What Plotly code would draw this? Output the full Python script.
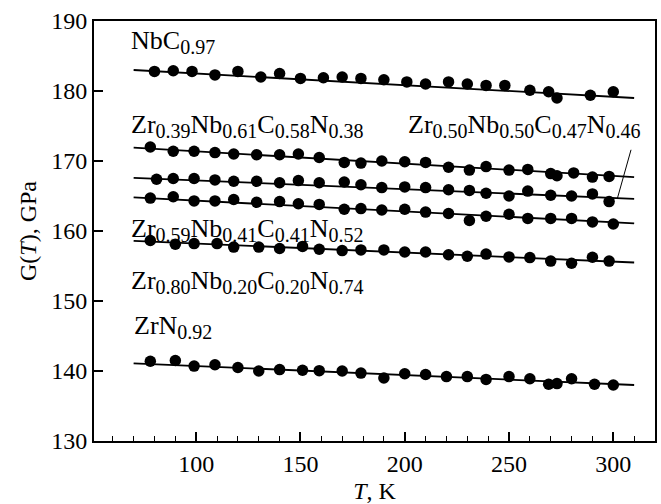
import plotly.graph_objects as go

# ---------------- data ----------------
T_NbC = [80, 89, 98, 109, 120, 131, 140, 150, 161, 170, 179, 190, 201, 210, 221, 230, 239, 248, 260, 269, 273, 289, 300]
G_NbC = [182.8, 182.9, 182.8, 182.3, 182.8, 182.0, 182.5, 181.8, 181.9, 182.0, 181.8, 181.6, 181.3, 181.0, 181.3, 181.0, 180.8, 180.8, 180.1, 179.9, 179.0, 179.4, 179.9]

T_Zr39 = [78, 89, 99, 109, 118, 129, 140, 149, 159, 171, 179, 189, 200, 210, 221, 231, 239, 250, 259, 270, 273, 281, 290, 298]
G_Zr39 = [172.0, 171.4, 171.4, 171.2, 171.0, 170.9, 170.9, 171.0, 170.5, 169.8, 169.7, 170.0, 169.9, 169.8, 169.1, 168.7, 169.2, 168.7, 168.8, 168.2, 167.9, 168.3, 167.7, 167.8]

T_Zr50 = [81, 89, 99, 109, 118, 129, 140, 149, 159, 171, 179, 189, 200, 210, 221, 231, 239, 250, 259, 270, 280, 290, 298]
G_Zr50 = [167.4, 167.5, 167.5, 167.3, 167.1, 167.1, 166.9, 167.2, 166.9, 167.0, 166.6, 166.2, 166.3, 166.2, 165.9, 165.8, 165.4, 165.0, 165.7, 165.1, 165.0, 165.3, 164.2]

T_Zr59 = [78, 89, 99, 109, 118, 129, 140, 149, 159, 171, 179, 189, 200, 210, 221, 231, 239, 250, 259, 270, 280, 290, 300]
G_Zr59 = [164.7, 164.9, 164.3, 164.3, 164.5, 164.1, 164.2, 163.9, 163.8, 163.1, 163.2, 163.0, 163.1, 162.7, 162.5, 161.5, 162.1, 162.4, 161.8, 161.8, 161.8, 161.3, 161.0]

T_Zr80 = [78, 90, 99, 110, 118, 130, 140, 151, 159, 170, 179, 190, 200, 210, 221, 230, 239, 250, 260, 270, 280, 290, 298]
G_Zr80 = [158.65, 158.1, 158.2, 158.2, 157.7, 157.7, 157.5, 157.8, 157.4, 157.2, 157.3, 157.3, 157.0, 157.0, 156.6, 156.4, 156.7, 156.3, 156.2, 155.7, 155.4, 156.25, 155.7]

T_ZrN = [78, 90, 99, 109, 120, 130, 140, 151, 159, 170, 179, 190, 200, 210, 220, 230, 239, 250, 260, 269, 273, 280, 291, 300]
G_ZrN = [141.4, 141.5, 140.7, 140.9, 140.5, 140.0, 140.2, 140.1, 140.05, 140.0, 139.7, 139.0, 139.6, 139.5, 139.2, 139.2, 138.8, 139.2, 138.9, 138.1, 138.2, 138.9, 138.1, 138.0]

# fitted straight lines (end values at T_fit)
T_fit = [70, 310]
fit_NbC = [183.0, 179.0]
fit_Zr39 = [171.9, 167.7]
fit_Zr50 = [167.6, 164.6]
fit_Zr59 = [164.8, 161.1]
fit_Zr80 = [158.6, 155.5]
fit_ZrN = [141.1, 138.0]

# label pieces: (main text, subscript) pairs
label_parts = [
    [("NbC", "0.97")],
    [("Zr", "0.39"), ("Nb", "0.61"), ("C", "0.58"), ("N", "0.38")],
    [("Zr", "0.50"), ("Nb", "0.50"), ("C", "0.47"), ("N", "0.46")],
    [("Zr", "0.59"), ("Nb", "0.41"), ("C", "0.41"), ("N", "0.52")],
    [("Zr", "0.80"), ("Nb", "0.20"), ("C", "0.20"), ("N", "0.74")],
    [("ZrN", "0.92")],
]
label_T = [67.8, 68.0, 200.5, 68.0, 68.0, 69.0]
label_G = [184.4, 172.5, 172.5, 157.6, 150.2, 143.7]

x_ticks = [100, 150, 200, 250, 300]
y_ticks = [130, 140, 150, 160, 170, 180, 190]

series = [
    (T_NbC, G_NbC, fit_NbC),
    (T_Zr39, G_Zr39, fit_Zr39),
    (T_Zr50, G_Zr50, fit_Zr50),
    (T_Zr59, G_Zr59, fit_Zr59),
    (T_Zr80, G_Zr80, fit_Zr80),
    (T_ZrN, G_ZrN, fit_ZrN),
]

FONT = "Liberation Serif, Times New Roman, serif"
SUB_PX = 20


def make_label(parts):
    out = ""
    for main, sub in parts:
        out += main + '<sub><span style="font-size:%dpx">%s</span></sub>' % (SUB_PX, sub)
    return out


fig = go.Figure()
for (tx, gy, fit) in series:
    fig.add_trace(go.Scatter(x=T_fit, y=fit, mode="lines",
                             line=dict(color="black", width=1.8),
                             showlegend=False, hoverinfo="skip"))
    fig.add_trace(go.Scatter(x=tx, y=gy, mode="markers",
                             marker=dict(color="black", size=11.5),
                             showlegend=False))

# leader line for Zr0.50 label
leader_T = [308.5, 302.0]
leader_G = [171.6, 164.7]
fig.add_trace(go.Scatter(x=leader_T, y=leader_G, mode="lines",
                         line=dict(color="black", width=1),
                         showlegend=False, hoverinfo="skip"))

for parts, lx, ly in zip(label_parts, label_T, label_G):
    fig.add_annotation(x=lx, y=ly, text=make_label(parts), showarrow=False,
                       xanchor="left", yanchor="bottom",
                       font=dict(family=FONT, size=26, color="black"))

fig.update_layout(
    width=661, height=504,
    margin=dict(l=94, r=6, t=21, b=63),
    paper_bgcolor="white", plot_bgcolor="white",
    font=dict(family=FONT, size=24, color="black"),
    showlegend=False,
)
fig.update_xaxes(
    range=[51, 320], tickvals=x_ticks, ticks="inside", ticklen=9,
    tickwidth=1.5, tickcolor="black",
    minor=dict(dtick=10, tick0=0, ticks="inside", ticklen=5, tickwidth=1.2, tickcolor="black"),
    showline=True, linewidth=2, linecolor="black", mirror=True,
    showgrid=False, zeroline=False, automargin=False,
    tickfont=dict(family=FONT, size=24, color="black"),
    title=dict(text="<i>T</i>, K", font=dict(family=FONT, size=24, color="black"), standoff=16),
)
fig.update_yaxes(
    range=[130, 190], tickvals=y_ticks, ticks="inside", ticklen=9,
    tickwidth=1.5, tickcolor="black",
    showline=True, linewidth=2, linecolor="black", mirror=True,
    showgrid=False, zeroline=False, automargin=False,
    tickfont=dict(family=FONT, size=24, color="black"),
    title=dict(text="G(<i>T</i>), GPa", font=dict(family=FONT, size=24, color="black"), standoff=8),
)

fig.write_html("out.html")
